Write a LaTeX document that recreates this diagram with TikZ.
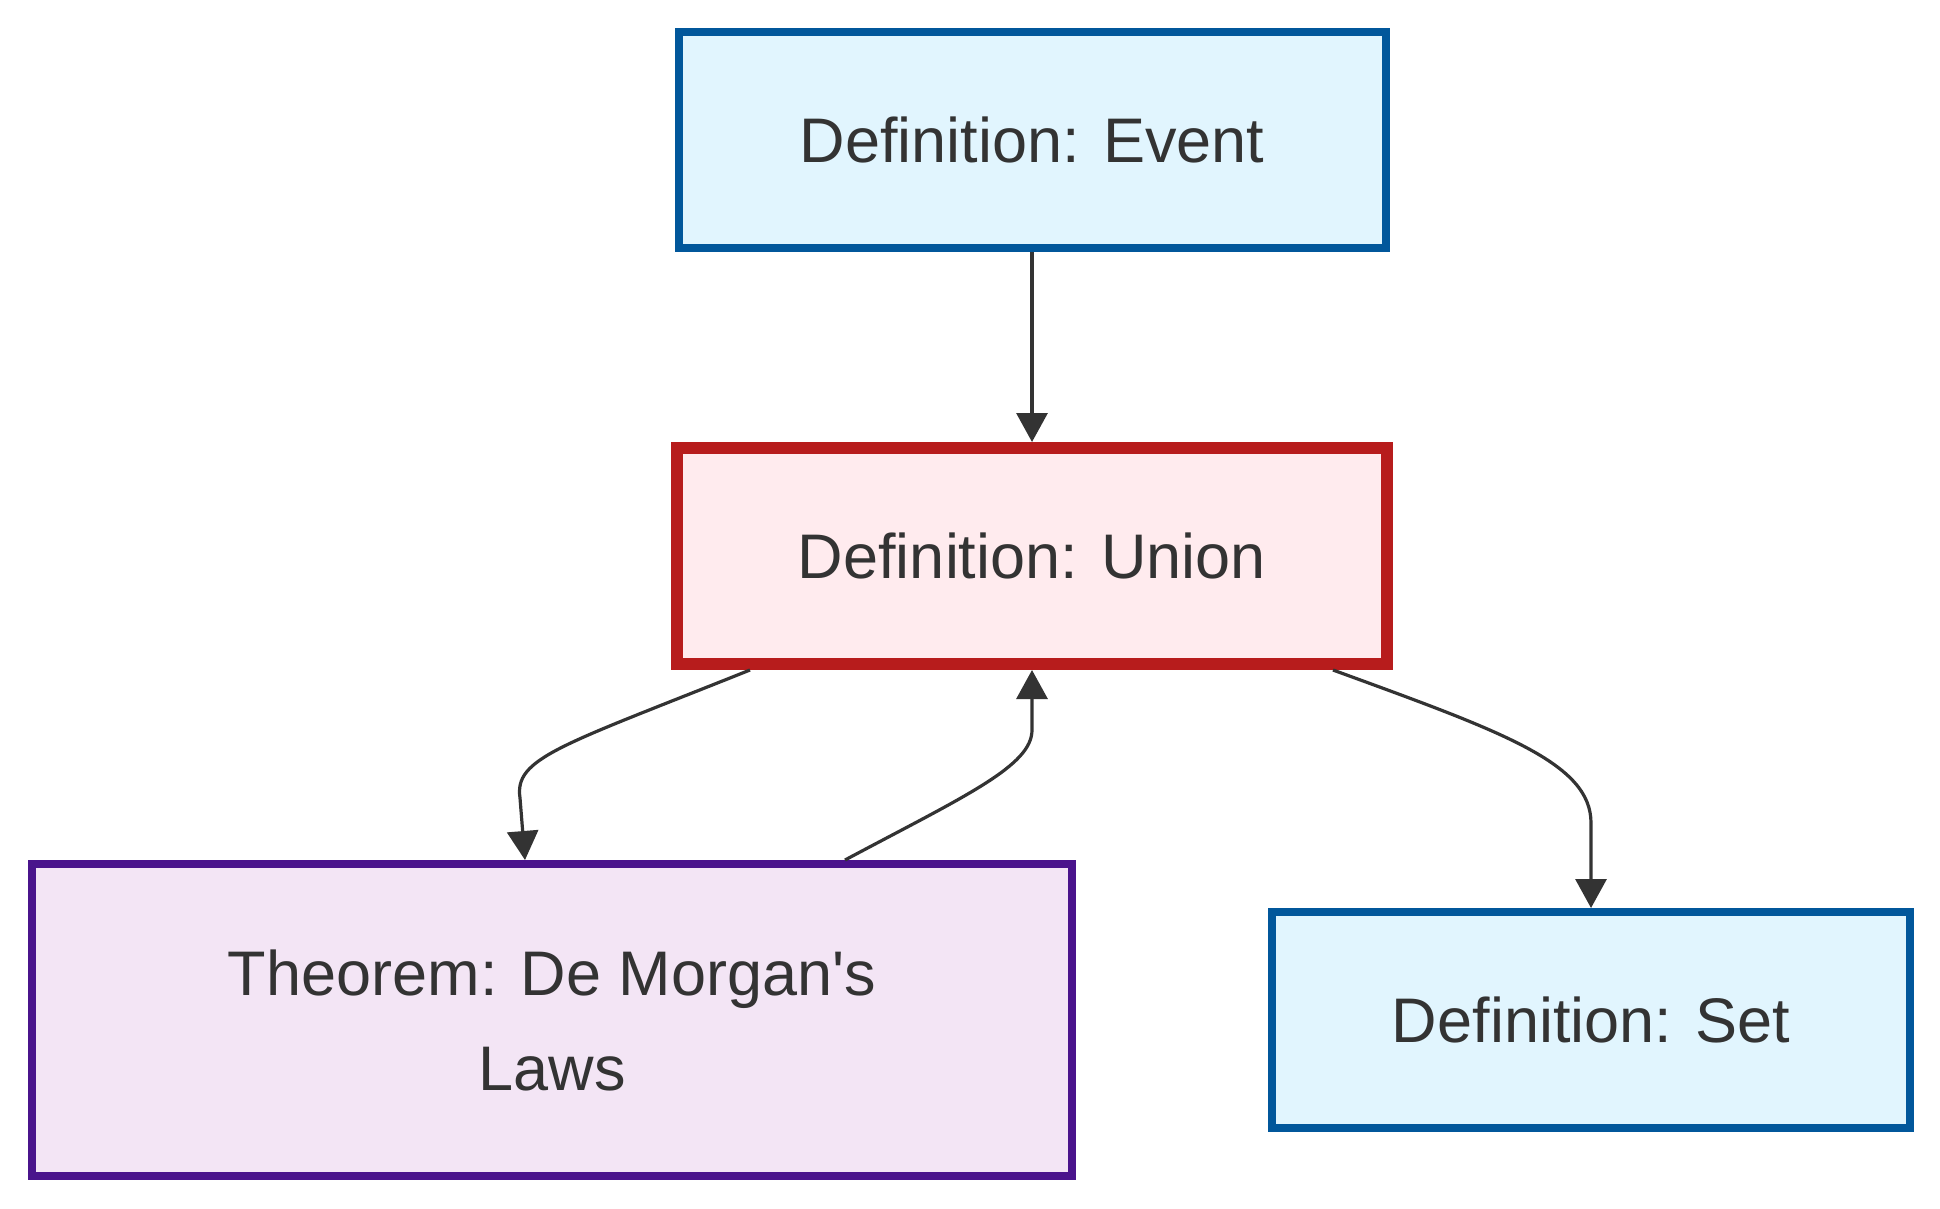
\documentclass[tikz,border=0pt]{standalone}
\usepackage{fontspec}
\setmainfont{Liberation Sans}[Ligatures=TeXOff]
\usetikzlibrary{arrows.meta}
\definecolor{txt}{HTML}{333333}
\definecolor{defill}{HTML}{E1F5FE}
\definecolor{defdraw}{HTML}{01579B}
\definecolor{unfill}{HTML}{FFEBEE}
\definecolor{undraw}{HTML}{B71C1C}
\definecolor{thfill}{HTML}{F3E5F5}
\definecolor{thdraw}{HTML}{4A148C}
\definecolor{edge}{HTML}{333333}
\tikzset{
  box/.style={rectangle, inner sep=0pt, text=txt, align=center,
    font=\fontsize{63}{95}\selectfont},
  defbox/.style={box, fill=defill, draw=defdraw, line width=8pt},
  unbox/.style={box, fill=unfill, draw=undraw, line width=12pt},
  thbox/.style={box, fill=thfill, draw=thdraw, line width=8pt},
  conn/.style={draw=edge, line width=3.2pt, -{Triangle[length=29pt,width=31pt]}}
}
\begin{document}
\begin{tikzpicture}[x=1pt,y=-1pt]
\useasboundingbox (0,0) rectangle (1940,1208);
\node[defbox, minimum width=707pt, minimum height=216pt] (E) at (1032,140) {Definition: Event};
\node[unbox, minimum width=710pt, minimum height=216pt] (U) at (1032,556) {Definition: Union};
\node[thbox, minimum width=1040pt, minimum height=312pt] (D) at (552,1020) {Theorem: De Morgan's\\Laws};
\node[defbox, minimum width=638pt, minimum height=216pt] (S) at (1591,1020) {Definition: Set};

\draw[conn] (E.south) -- (U.north);
\draw[conn] ([xshift=79pt]U.south west) .. controls +(-190,76) and +(-6,-40) .. ([xshift=-32pt,yshift=62pt]D.north) -- ([xshift=-27pt]D.north);
\draw[conn] ([xshift=817pt]D.north west) .. controls +(120,-64) and +(0,36) .. ([yshift=-60pt]U.south) -- (U.south);
\draw[conn] ([xshift=-60pt]U.south east) .. controls +(170,62) and +(0,-60) .. ([yshift=85pt]S.north) -- (S.north);
\end{tikzpicture}
\end{document}
